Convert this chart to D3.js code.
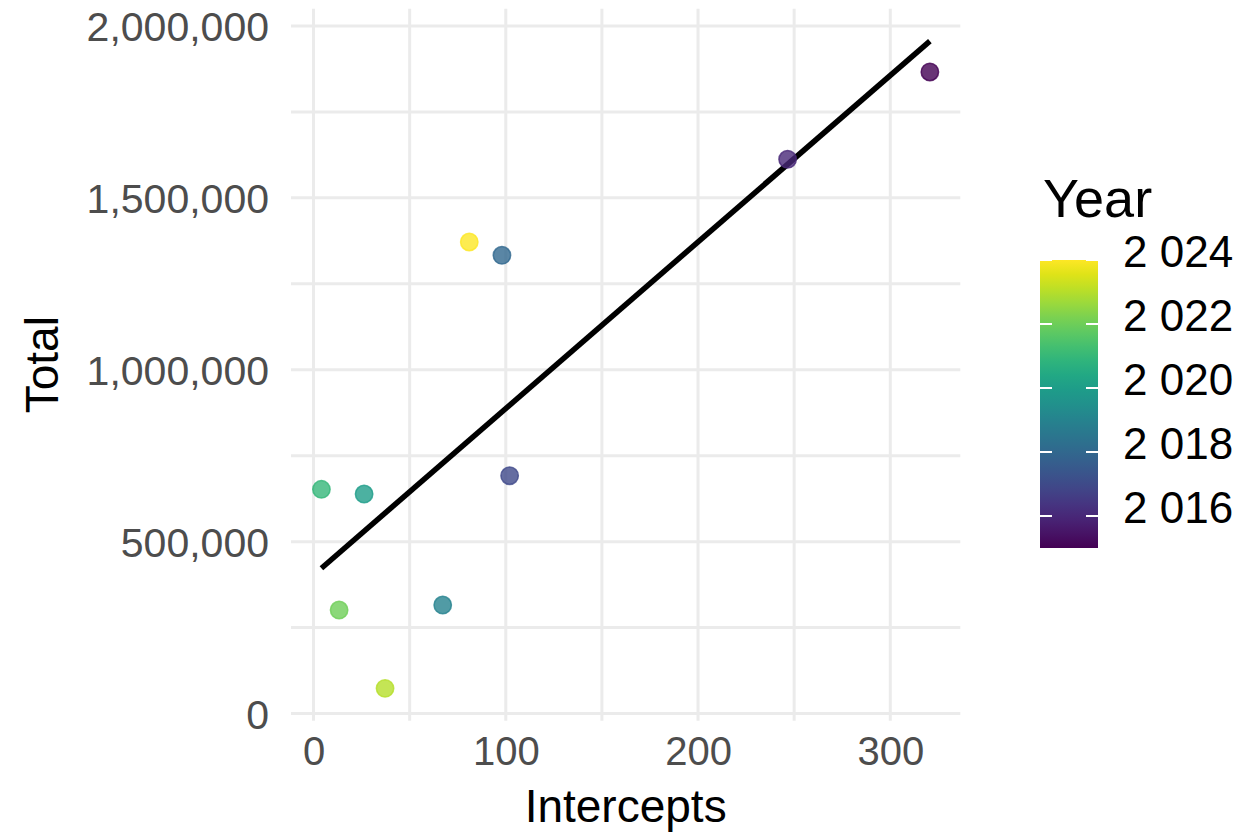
<!DOCTYPE html>
<html>
<head>
<meta charset="utf-8">
<script src="https://cdn.jsdelivr.net/npm/d3@7"></script>
<style>
  html, body { margin: 0; padding: 0; background: #ffffff; }
  svg { display: block; font-family: "Liberation Sans", Arial, Helvetica, sans-serif; }
</style>
</head>
<body>
<svg id="chart" width="1238" height="835"></svg>
<script>
// ---- data ----
const years      = [2015, 2016, 2017, 2018, 2019, 2020, 2021, 2022, 2023, 2024];
const intercepts = [320.6, 246.6, 102.0, 98.0, 67.2, 26.3, 4.1, 13.3, 37.2, 81.0];
const totals     = [1866182, 1612218, 691782, 1332945, 315636, 638545, 652218, 301091, 73309, 1371636];
const xTicks = [0, 100, 200, 300];
const yTicks = [0, 500000, 1000000, 1500000, 2000000];
const legendTicks = [2016, 2018, 2020, 2022, 2024];

const points = years.map((yr, i) => ({ year: yr, x: intercepts[i], y: totals[i] }));

// linear regression (geom_smooth method = lm)
const mx = d3.mean(intercepts), my = d3.mean(totals);
let sxy = 0, sxx = 0;
points.forEach(p => { sxy += (p.x - mx) * (p.y - my); sxx += (p.x - mx) * (p.x - mx); });
const slope = sxy / sxx, icpt = my - slope * mx;
const xMin = d3.min(intercepts), xMax = d3.max(intercepts);
const fitLine = [xMin, xMax].map(x => ({ x: x, y: icpt + slope * x }));

// ---- layout ----
const svg = d3.select("#chart");
const panel = { left: 291, right: 960.3, top: 8.7, bottom: 720.7 };

function expand(lo, hi) { const d = (hi - lo) * 0.05; return [lo - d, hi + d]; }
const xDom = expand(xMin, xMax);
const yLo = Math.min(d3.min(totals), d3.min(fitLine, d => d.y));
const yHi = Math.max(d3.max(totals), d3.max(fitLine, d => d.y));
const yDom = expand(yLo, yHi);

const x = d3.scaleLinear().domain(xDom).range([panel.left, panel.right]);
const y = d3.scaleLinear().domain(yDom).range([panel.bottom, panel.top]);

const colorScale = d3.scaleSequential(d3.interpolateViridis).domain([d3.min(years), d3.max(years)]);

// ---- grid ----
const grid = svg.append("g");
const xMinor = [50, 150, 250];
const yMinor = [250000, 750000, 1250000, 1750000];
grid.selectAll("line.vx").data(xMinor.concat(xTicks)).enter().append("line")
  .attr("x1", d => x(d)).attr("x2", d => x(d))
  .attr("y1", panel.top).attr("y2", panel.bottom)
  .attr("stroke", "#ebebeb").attr("stroke-width", 3);
grid.selectAll("line.hy").data(yMinor.concat(yTicks)).enter().append("line")
  .attr("y1", d => y(d)).attr("y2", d => y(d))
  .attr("x1", panel.left).attr("x2", panel.right)
  .attr("stroke", "#ebebeb").attr("stroke-width", 3);

// ---- axes (labels only, theme_minimal) ----
const xAxis = svg.append("g").attr("transform", `translate(0,${panel.bottom})`)
  .call(d3.axisBottom(x).tickValues(xTicks).tickSize(0).tickPadding(0).tickFormat(d3.format("d")));
xAxis.select(".domain").remove();
xAxis.selectAll("text").attr("fill", "#4d4d4d").attr("font-size", 40)
  .attr("y", 44.5).attr("dy", 0);

const yAxis = svg.append("g").attr("transform", `translate(${panel.left},0)`)
  .call(d3.axisLeft(y).tickValues(yTicks).tickSize(0).tickPadding(0).tickFormat(d3.format(",")));
yAxis.select(".domain").remove();
yAxis.selectAll("text").attr("fill", "#4d4d4d").attr("font-size", 41)
  .attr("x", -22).attr("dy", "0.36em");
svg.selectAll(".tick text").attr("font-family", "\"Liberation Sans\", Arial, Helvetica, sans-serif");

// ---- fit line ----
svg.append("path").datum(fitLine)
  .attr("d", d3.line().x(d => x(d.x)).y(d => y(d.y)))
  .attr("fill", "none").attr("stroke", "#000").attr("stroke-width", 5.5);

// ---- points ----
svg.append("g").selectAll("circle").data(points).enter().append("circle")
  .attr("cx", d => x(d.x)).attr("cy", d => y(d.y)).attr("r", 8.7)
  .attr("fill", d => colorScale(d.year)).attr("fill-opacity", 0.8)
  .attr("stroke", d => colorScale(d.year)).attr("stroke-opacity", 0.8).attr("stroke-width", 1.5);

// ---- axis titles ----
svg.append("text").attr("x", (panel.left + panel.right) / 2).attr("y", 822)
  .attr("text-anchor", "middle").attr("font-size", 46).attr("fill", "#000").text("Intercepts");
svg.append("text").attr("transform", `translate(58,${(panel.top + panel.bottom) / 2}) rotate(-90)`)
  .attr("text-anchor", "middle").attr("font-size", 46).attr("fill", "#000").text("Total");

// ---- legend (colorbar) ----
const bar = { x: 1040, w: 58, top: 260, bottom: 548 };
const ly = d3.scaleLinear().domain([d3.min(years), d3.max(years)]).range([bar.bottom, bar.top]);
const defs = svg.append("defs");
const grad = defs.append("linearGradient").attr("id", "vgrad")
  .attr("x1", 0).attr("y1", 1).attr("x2", 0).attr("y2", 0);
d3.range(0, 1.0001, 0.05).forEach(t => {
  grad.append("stop").attr("offset", t).attr("stop-color", d3.interpolateViridis(t));
});
svg.append("text").attr("x", 1043).attr("y", 217).attr("font-size", 54).attr("fill", "#000").text("Year");
svg.append("rect").attr("x", bar.x).attr("y", bar.top).attr("width", bar.w)
  .attr("height", bar.bottom - bar.top).attr("fill", "url(#vgrad)");
const lg = svg.append("g");
legendTicks.forEach(t => {
  lg.append("line").attr("x1", bar.x).attr("x2", bar.x + 12).attr("y1", ly(t)).attr("y2", ly(t))
    .attr("stroke", "#fff").attr("stroke-width", 2);
  lg.append("line").attr("x1", bar.x + bar.w - 12).attr("x2", bar.x + bar.w).attr("y1", ly(t)).attr("y2", ly(t))
    .attr("stroke", "#fff").attr("stroke-width", 2);
});
const fmtYear = d => { const s = String(d); return s.slice(0, s.length - 3) + " " + s.slice(-3); };
lg.selectAll("text").data(legendTicks).enter().append("text")
  .attr("x", 1123).attr("y", d => ly(d) - 9).attr("dy", "0.36em")
  .attr("font-size", 44).attr("fill", "#000").text(fmtYear);
</script>
</body>
</html>
